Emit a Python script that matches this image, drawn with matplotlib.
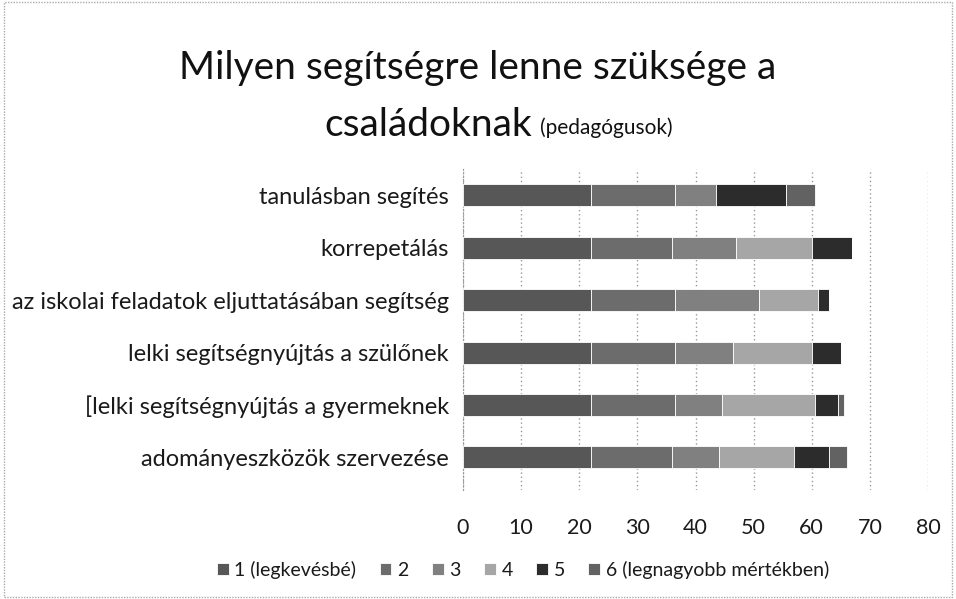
import matplotlib
matplotlib.use("Agg")
import matplotlib.pyplot as plt
import numpy as np
from matplotlib.patches import Rectangle

plt.rcParams['font.family'] = ['Lato', 'DejaVu Sans']

# categories, top to bottom as in the picture
categories = [
    "tanulásban segítés",
    "korrepetálás",
    "az iskolai feladatok eljuttatásában segítség",
    "lelki segítségnyújtás a szülőnek",
    "[lelki segítségnyújtás a gyermeknek",
    "adományeszközök szervezése",
]
series_names = ["1 (legkevésbé)", "2", "3", "4", "5",
                "6 (legnagyobb mértékben)"]
# values per rating, same order as categories
r1 = [22, 22, 22, 22, 22, 22]
r2 = [14.5, 14, 14.5, 14.5, 14.5, 14]
r3 = [7, 11, 14.5, 10, 8, 8]
r4 = [0, 13, 10, 13.5, 16, 13]
r5 = [12, 7, 2, 5, 4, 6]
r6 = [5, 0, 0, 0, 1, 3]
series = [r1, r2, r3, r4, r5, r6]
colors = ["#575757", "#6c6c6c", "#808080", "#a6a6a6", "#2c2c2c", "#626262"]

fig = plt.figure(figsize=(9.56, 5.99), dpi=100)
ax = fig.add_axes([463/956, 1 - 490/599, 465/956, 321/599])

y = np.arange(len(categories))
left = np.zeros(len(categories))
for vals, name, c in zip(series, series_names, colors):
    vals = np.array(vals, dtype=float)
    ax.barh(y, vals, left=left, height=0.42, color=c, edgecolor="white",
            linewidth=0.6, label=name, zorder=3)
    left += vals

# a little room below the last bar, like the original
ax.set_ylim(len(categories) - 0.38, -0.5)
ax.set_xlim(0, 80)
ax.set_xticks(np.arange(0, 81, 10))
ax.set_yticks(y)
ax.set_yticklabels(categories, fontsize=17, color="#1a1a1a")
ax.tick_params(axis="x", labelsize=15.5, colors="#1a1a1a", length=0, pad=20)
ax.tick_params(axis="y", length=0, pad=10)
ax.grid(axis="x", color="#999999", linestyle=(0, (1, 2)), linewidth=1, zorder=0)
for s in ["top", "right", "bottom"]:
    ax.spines[s].set_visible(False)
ax.spines["left"].set_color("#999999")
ax.spines["left"].set_linestyle((0, (1, 2)))

fig.text(0.5, 1 - 68/599, "Milyen segítségre lenne szüksége a", ha="center",
         va="center", fontsize=28, color="#111111")
fig.text(532/956, 1 - 125/599, "családoknak", ha="right", va="center",
         fontsize=28, color="#111111")
fig.text(540/956, 1 - 128/599, "(pedagógusok)", ha="left", va="center",
         fontsize=15, color="#111111")

fig.legend(loc="center", bbox_to_anchor=(523/956, 1 - 570/599), ncol=6,
           frameon=False, fontsize=14, handlelength=0.6, handleheight=0.6,
           handletextpad=0.3, columnspacing=1.2, labelcolor="#1a1a1a")

fig.add_artist(Rectangle((0.004, 0.004), 0.992, 0.992, transform=fig.transFigure,
                         fill=False, edgecolor="#aaaaaa", linewidth=1,
                         linestyle=(0, (1, 1))))

fig.savefig("out.png", dpi=100)
